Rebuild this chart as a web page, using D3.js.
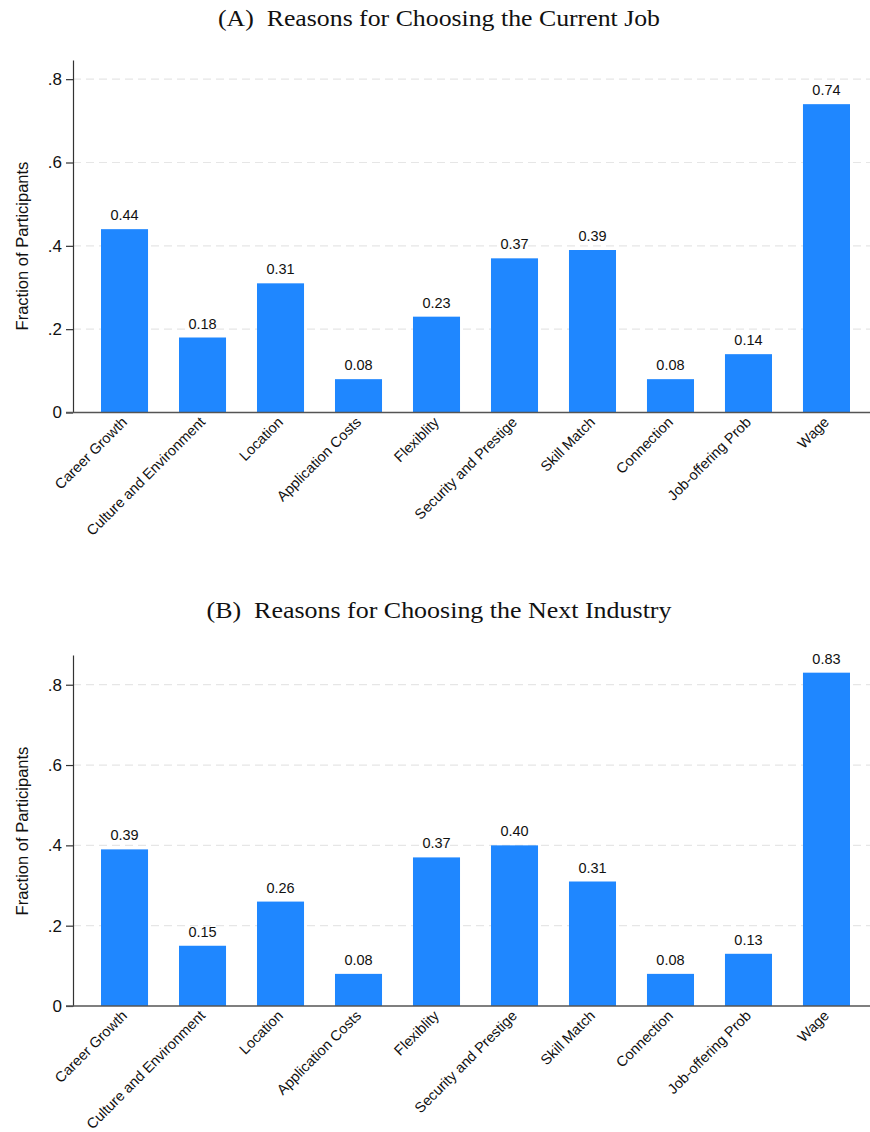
<!DOCTYPE html>
<html>
<head>
<meta charset="utf-8">
<script src="https://cdn.jsdelivr.net/npm/d3@7"></script>
<style>
  html, body { margin: 0; padding: 0; background: #fff; }
  svg { display: block; }
</style>
</head>
<body>
<svg id="chart" width="870" height="1132"></svg>
<script>
// Reason categories shared by both panels
const categories = [
  "Career Growth", "Culture and Environment", "Location", "Application Costs",
  "Flexiblity", "Security and Prestige", "Skill Match", "Connection",
  "Job-offering Prob", "Wage"
];

// Fraction of participants citing each reason
const currentJobValues   = [0.44, 0.18, 0.31, 0.08, 0.23, 0.37, 0.39, 0.08, 0.14, 0.74];
const nextIndustryValues = [0.39, 0.15, 0.26, 0.08, 0.37, 0.40, 0.31, 0.08, 0.13, 0.83];

// Y-axis ticks and their labels
const yTicks = [0, 0.2, 0.4, 0.6, 0.8];
const yTickLabels = ["0", ".2", ".4", ".6", ".8"];

const panelTitles = [
  "(A)\u00a0\u00a0Reasons for Choosing the Current Job",
  "(B)\u00a0\u00a0Reasons for Choosing the Next Industry"
];

const yAxisTitle = "Fraction of Participants";

// Layout for each panel
const panels = [
  { title: panelTitles[0], values: currentJobValues,   titleY: 26,  titleW: 442, base: 412.5, top: 60,  domainMax: 0.846, yTitleC: 246 },
  { title: panelTitles[1], values: nextIndustryValues, titleY: 618, titleW: 465, base: 1006,  top: 655, domainMax: 0.874, yTitleC: 831 }
];

const svg = d3.select("#chart");
const axisX = 73;
const rightX = 870;
const barColor = "#1f87ff";
const sans = "'Liberation Sans', Arial, sans-serif";
const serif = "'Liberation Serif', 'DejaVu Serif', serif";

const x = d3.scaleBand()
  .domain(categories)
  .range([73.7, 877.3])
  .paddingInner(0.397)
  .paddingOuter(0.35);

panels.forEach(p => {
  const g = svg.append("g");
  const y = d3.scaleLinear().domain([0, p.domainMax]).range([p.base, p.top]);

  // Panel title
  g.append("text")
    .attr("x", 439).attr("y", p.titleY)
    .attr("text-anchor", "middle")
    .attr("font-family", serif)
    .attr("font-size", 23)
    .attr("textLength", p.titleW)
    .attr("lengthAdjust", "spacingAndGlyphs")
    .attr("fill", "#111")
    .text(p.title);

  // Dashed gridlines
  g.append("g").selectAll("line")
    .data(yTicks.filter(t => t > 0))
    .join("line")
    .attr("x1", axisX).attr("x2", rightX)
    .attr("y1", d => y(d)).attr("y2", d => y(d))
    .attr("stroke", "#e6e6e6")
    .attr("stroke-width", 1.2)
    .attr("stroke-dasharray", "8,5");

  // Bars
  g.append("g").selectAll("rect")
    .data(p.values)
    .join("rect")
    .attr("x", (d, i) => x(categories[i]))
    .attr("width", x.bandwidth())
    .attr("y", d => y(d))
    .attr("height", d => y(0) - y(d))
    .attr("fill", barColor);

  // Value labels above bars
  g.append("g").selectAll("text")
    .data(p.values)
    .join("text")
    .attr("x", (d, i) => x(categories[i]) + x.bandwidth() / 2)
    .attr("y", d => y(d) - 9)
    .attr("text-anchor", "middle")
    .attr("font-family", sans)
    .attr("font-size", 14.5)
    .attr("fill", "#111")
    .text(d => d3.format(".2f")(d));

  // Y axis
  const yAxis = d3.axisLeft(y)
    .tickValues(yTicks)
    .tickFormat((d, i) => yTickLabels[i])
    .tickSize(7)
    .tickSizeOuter(0)
    .tickPadding(4);
  const ya = g.append("g")
    .attr("transform", `translate(${axisX},0)`)
    .call(yAxis);
  ya.select(".domain").attr("stroke", "#333").attr("stroke-width", 1.2);
  ya.selectAll(".tick line").attr("stroke", "#333").attr("stroke-width", 1.2);
  ya.selectAll(".tick text")
    .attr("font-family", sans)
    .attr("font-size", 17)
    .attr("fill", "#111");

  // X axis baseline
  g.append("line")
    .attr("x1", axisX - 7).attr("x2", rightX)
    .attr("y1", y(0)).attr("y2", y(0))
    .attr("stroke", "#555")
    .attr("stroke-width", 1.5);

  // Rotated category labels
  g.append("g").selectAll("text")
    .data(categories)
    .join("text")
    .attr("transform", d => `translate(${x(d) + x.bandwidth() / 2 + 3.5},${y(0) + 10.5}) rotate(-45)`)
    .attr("text-anchor", "end")
    .attr("font-family", sans)
    .attr("font-size", 14.5)
    .attr("fill", "#111")
    .text(d => d);

  // Y-axis title
  g.append("text")
    .attr("transform", `translate(28,${p.yTitleC}) rotate(-90)`)
    .attr("text-anchor", "middle")
    .attr("font-family", sans)
    .attr("font-size", 16.5)
    .attr("fill", "#111")
    .text(yAxisTitle);
});
</script>
</body>
</html>
